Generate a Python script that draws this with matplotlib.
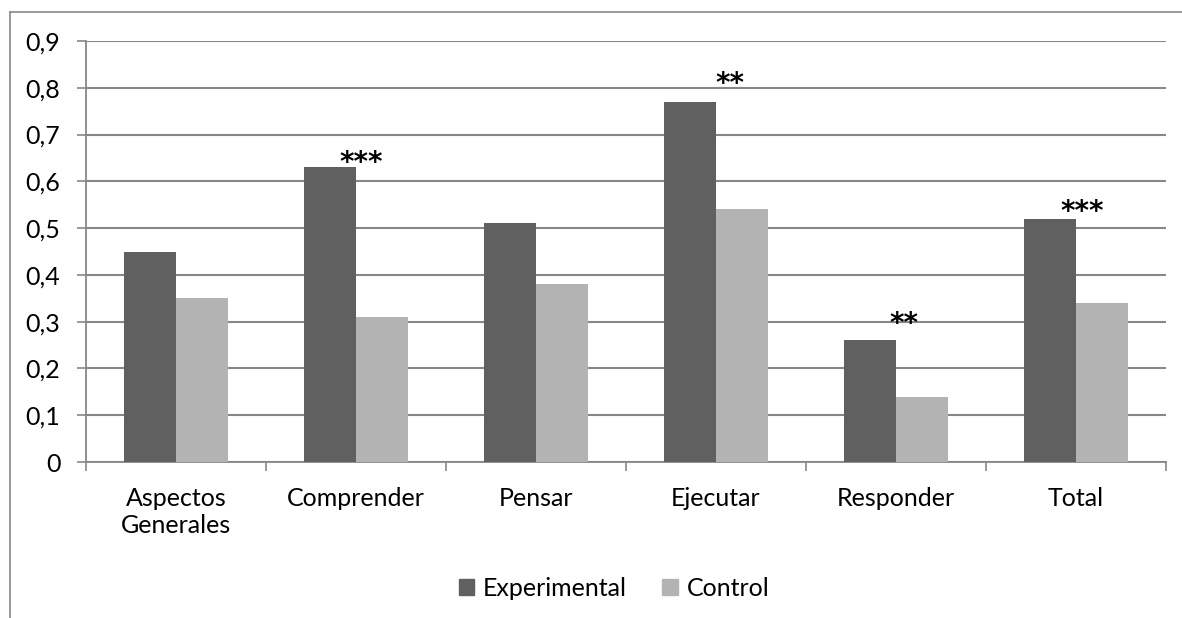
import matplotlib
matplotlib.use("Agg")
import matplotlib.pyplot as plt
import numpy as np
from matplotlib.lines import Line2D
from matplotlib.patches import Patch

categories = ["Aspectos\nGenerales", "Comprender", "Pensar", "Ejecutar", "Responder", "Total"]
experimental = [0.45, 0.63, 0.51, 0.77, 0.26, 0.52]
control = [0.35, 0.31, 0.38, 0.54, 0.14, 0.34]
yticks = [0, 0.1, 0.2, 0.3, 0.4, 0.5, 0.6, 0.7, 0.8, 0.9]
ytick_labels = ["0", "0,1", "0,2", "0,3", "0,4", "0,5", "0,6", "0,7", "0,8", "0,9"]
sig_labels = ["", "***", "", "**", "**", "***"]

plt.rcParams['font.family'] = ['Lato', 'DejaVu Sans']

DARK = "#606060"
LIGHT = "#b3b3b3"
GRID = "#878787"
FS = 18

fig = plt.figure(figsize=(11.82, 6.18), dpi=100)
ax = fig.add_axes([86/1182, 1-462/618, (1166-86)/1182, (462-41)/618])

x = np.arange(len(categories))
w = 0.287
ax.bar(x - w/2, experimental, width=w, color=DARK, zorder=3, label="Experimental")
ax.bar(x + w/2, control, width=w, color=LIGHT, zorder=3, label="Control")

ax.set_xlim(-0.5, len(categories) - 0.5)
ax.set_ylim(0, 0.9)
ax.set_yticks(yticks)
ax.set_yticklabels(ytick_labels, fontsize=FS)
ax.yaxis.grid(True, color=GRID, linewidth=1.5, zorder=0)
ax.set_axisbelow(True)

ax.set_xticks(x)
ax.set_xticklabels(categories, fontsize=FS, linespacing=1.2)
ax.set_xticks(np.arange(-0.5, len(categories)), minor=True)
ax.tick_params(axis='x', which='major', length=0, pad=18)
ax.tick_params(axis='x', which='minor', length=6.5, width=1.2, color=GRID, direction='out')
ax.tick_params(axis='y', length=6.5, width=1.2, color=GRID, pad=12)

for s in ['top', 'right']:
    ax.spines[s].set_visible(False)
for s in ['left', 'bottom']:
    ax.spines[s].set_color(GRID)
    ax.spines[s].set_linewidth(1.3)

# significance markers
sig_dx = [0, 0.17, 0, 0.22, 0.19, 0.18]
sig_dy = [0, -0.007, 0, 0.020, 0.018, -0.002]
for i, lab in enumerate(sig_labels):
    if lab:
        ax.text(x[i] - w/2 + sig_dx[i], experimental[i] + sig_dy[i], lab,
                ha='center', va='baseline', fontsize=20, family='DejaVu Sans',
                fontweight='semibold', zorder=4)

handles = [Patch(color=DARK), Patch(color=LIGHT)]
fig.legend(handles, ["Experimental", "Control"], loc='center', bbox_to_anchor=(614/1182, 1-588/618),
           ncol=2, frameon=False, fontsize=FS, handlelength=0.62, handleheight=0.62,
           handletextpad=0.35, columnspacing=1.4)

# outer border (left & top)
fig.add_artist(Line2D([10/1182, 10/1182], [0, 1-12/618], transform=fig.transFigure, color=GRID, lw=1.2))
fig.add_artist(Line2D([10/1182, 1], [1-12/618, 1-12/618], transform=fig.transFigure, color=GRID, lw=1.2))

fig.savefig("out.png", dpi=100)
